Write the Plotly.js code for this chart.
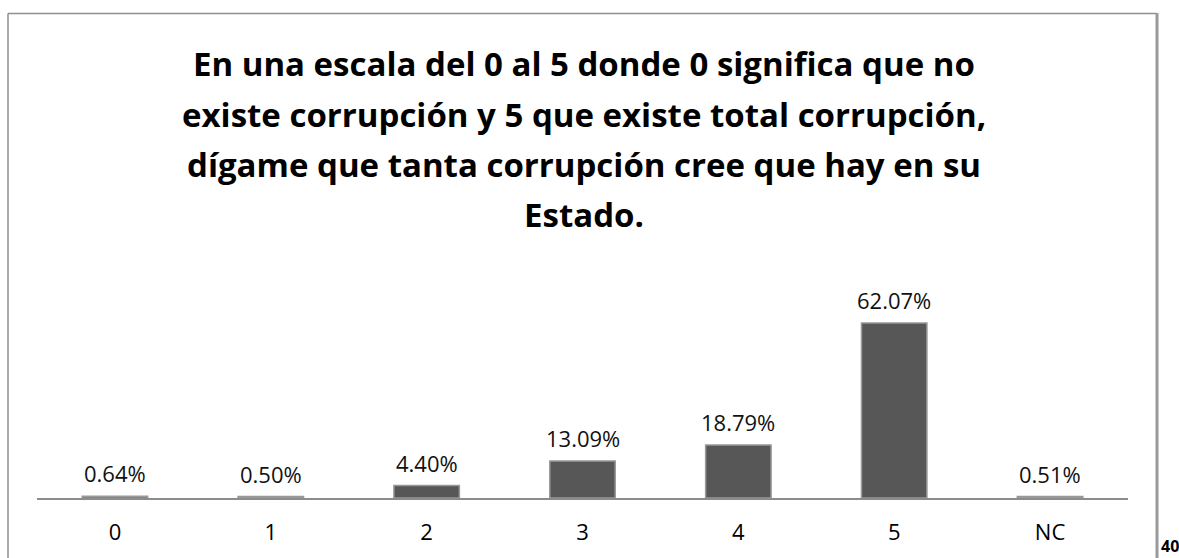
<!DOCTYPE html>
<html>
<head>
<meta charset="utf-8">
<script src="https://cdn.plot.ly/plotly-3.0.1.min.js"></script>
<style>
html,body{margin:0;padding:0;background:#fff;}
#chart{width:1179px;height:558px;}
</style>
</head>
<body>
<div id="chart"></div>
<script>
var categories = ["0", "1", "2", "3", "4", "5", "NC"];
var values = [0.64, 0.50, 4.40, 13.09, 18.79, 62.07, 0.51];
var valueLabels = ["0.64%", "0.50%", "4.40%", "13.09%", "18.79%", "62.07%", "0.51%"];
var titleLines = [
  "En una escala del 0 al 5 donde 0 significa que no",
  "existe corrupción y 5 que existe total corrupción,",
  "dígame que tanta corrupción cree que hay en su",
  "Estado."
];
var pageNumber = "40";

var FONT = "'Open Sans', 'Noto Sans', sans-serif";

// plot area geometry (pixels)
var L = 37, R = 51, T = 300, B = 60;
var W = 1179 - L - R, H = 558 - T - B;
function px(x){ return (x - L) / W; }
function py(y){ return (558 - B - y) / H; }

var annotations = [];
var titleY = [63, 114, 164, 214];
titleLines.forEach(function(line, i){
  annotations.push({
    xref: 'paper', yref: 'paper', x: px(584), y: py(titleY[i]),
    xanchor: 'center', yanchor: 'middle', showarrow: false,
    text: '<b>' + line + '</b>',
    font: {family: FONT, size: 33, color: '#000'}
  });
});
categories.forEach(function(c, i){
  annotations.push({
    xref: 'x', yref: 'y', x: c, y: values[i],
    xanchor: 'center', yanchor: 'bottom', showarrow: false, yshift: 6,
    text: valueLabels[i],
    font: {family: FONT, size: 22, color: '#111'}
  });
});
annotations.push({
  xref: 'paper', yref: 'paper', x: px(1170), y: py(546),
  xanchor: 'center', yanchor: 'middle', showarrow: false,
  text: '<b>' + pageNumber + '</b>',
  font: {family: FONT, size: 16, color: '#000'}
});

var trace = {
  type: 'bar',
  x: categories,
  y: values,
  width: 0.42,
  marker: {color: '#575757', line: {color: '#999999', width: 1.5}},
  hoverinfo: 'skip'
};

var layout = {
  width: 1179, height: 558,
  margin: {l: L, r: R, t: T, b: B, pad: 0},
  paper_bgcolor: '#fff', plot_bgcolor: '#fff',
  showlegend: false,
  xaxis: {
    type: 'category', showline: true, linecolor: '#8c8c8c', linewidth: 1.5,
    showgrid: false, zeroline: false, ticks: '',
    ticklabelstandoff: 14,
    tickfont: {family: FONT, size: 22, color: '#000'},
    fixedrange: true
  },
  yaxis: {
    range: [0, 70.2], visible: false, showgrid: false, zeroline: false, fixedrange: true
  },
  annotations: annotations,
  shapes: [
    {type: 'line', xref: 'paper', yref: 'paper', x0: px(8), x1: px(8), y0: py(13.5), y1: py(570), line: {color: '#8f8f8f', width: 1.5}},
    {type: 'line', xref: 'paper', yref: 'paper', x0: px(8), x1: px(1157), y0: py(13.5), y1: py(13.5), line: {color: '#8f8f8f', width: 1.5}},
    {type: 'line', xref: 'paper', yref: 'paper', x0: px(1157), x1: px(1157), y0: py(13), y1: py(570), line: {color: '#9a9a9a', width: 3}}
  ]
};

Plotly.newPlot('chart', [trace], layout, {displayModeBar: false, staticPlot: true});
</script>
</body>
</html>
